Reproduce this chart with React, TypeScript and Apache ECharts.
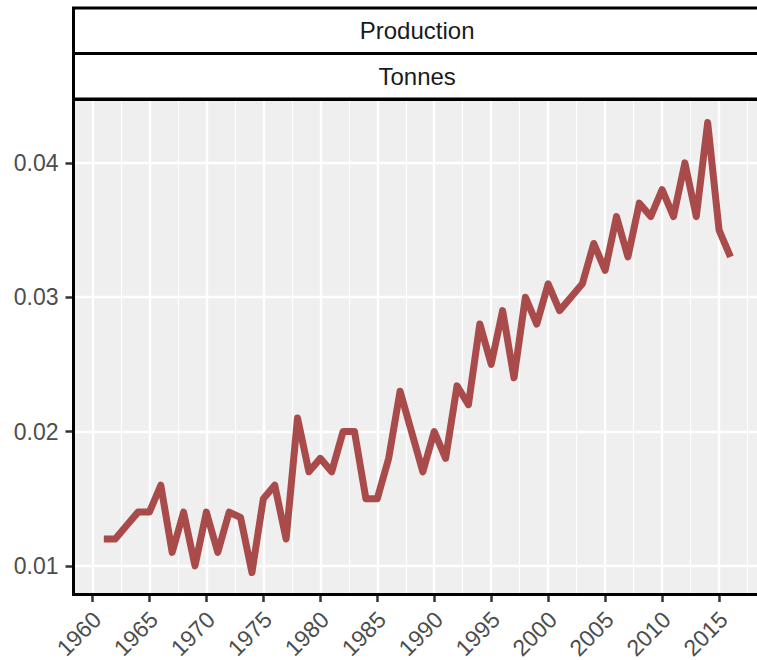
import React, { useEffect, useRef } from "react";
import * as echarts from "echarts";

const years: number[] = [
  1961, 1962, 1963, 1964, 1965, 1966, 1967, 1968, 1969, 1970,
  1971, 1972, 1973, 1974, 1975, 1976, 1977, 1978, 1979, 1980,
  1981, 1982, 1983, 1984, 1985, 1986, 1987, 1988, 1989, 1990,
  1991, 1992, 1993, 1994, 1995, 1996, 1997, 1998, 1999, 2000,
  2001, 2002, 2003, 2004, 2005, 2006, 2007, 2008, 2009, 2010,
  2011, 2012, 2013, 2014, 2015, 2016,
];

const production: number[] = [
  0.012, 0.012, 0.013, 0.014, 0.014, 0.016, 0.011, 0.014, 0.010, 0.014,
  0.011, 0.014, 0.0136, 0.0095, 0.015, 0.016, 0.012, 0.021, 0.017, 0.018,
  0.017, 0.020, 0.020, 0.015, 0.015, 0.018, 0.023, 0.020, 0.017, 0.020,
  0.018, 0.0234, 0.022, 0.028, 0.025, 0.029, 0.024, 0.030, 0.028, 0.031,
  0.029, 0.030, 0.031, 0.034, 0.032, 0.036, 0.033, 0.037, 0.036, 0.038,
  0.036, 0.040, 0.036, 0.043, 0.035, 0.033,
];

const xTicks: number[] = [1960, 1965, 1970, 1975, 1980, 1985, 1990, 1995, 2000, 2005, 2010, 2015];
const xMinor: number[] = [1962.5, 1967.5, 1972.5, 1977.5, 1982.5, 1987.5, 1992.5, 1997.5, 2002.5, 2007.5, 2012.5, 2017.5];
const yTicks: number[] = [0.01, 0.02, 0.03, 0.04];
const yMinor: number[] = [0.015, 0.025, 0.035];

const stripLabels: string[] = ["Production", "Tonnes"];

const FONT = "'Liberation Sans', Arial, Helvetica, sans-serif";

export default function App() {
  const ref = useRef<HTMLDivElement>(null);

  useEffect(() => {
    if (!ref.current) return;
    const chart = echarts.init(ref.current, null, { renderer: "svg" });

    const gridLeft = 72.5;
    const gridTop = 100;
    const gridWidth = 689.3;
    const gridHeight = 495;
    const stripX = 73.5;
    const stripW = 720;
    const stripH = 45.5;
    const stripCx = gridLeft + gridWidth / 2;

    const option: any = {
      animation: false,
      grid: {
        left: gridLeft,
        top: gridTop,
        width: gridWidth,
        height: gridHeight,
        show: true,
        backgroundColor: "#EFEFEF",
        borderWidth: 0,
        containLabel: false,
        outerBoundsMode: "none",
      },
      xAxis: {
        type: "value",
        min: 1958.25,
        max: 2018.75,
        axisLine: { show: false },
        splitLine: { show: false },
        axisTick: {
          show: true,
          customValues: xTicks,
          length: 7,
          lineStyle: { color: "#333333", width: 2.5 },
        },
        axisLabel: {
          show: true,
          customValues: xTicks,
          rotate: 45,
          margin: 9,
          padding: [0, 5, 0, 0],
          align: "right",
          verticalAlign: "top",
          fontFamily: FONT,
          fontSize: 23,
          color: "#4D4D4D",
          formatter: (v: number) => String(Math.round(v)),
        },
      },
      yAxis: {
        type: "value",
        min: 0.00783,
        max: 0.04468,
        axisLine: { show: false },
        splitLine: { show: false },
        axisTick: {
          show: true,
          customValues: yTicks,
          length: 7,
          lineStyle: { color: "#333333", width: 2.5 },
        },
        axisLabel: {
          show: true,
          customValues: yTicks,
          margin: 14,
          fontFamily: FONT,
          fontSize: 23,
          color: "#4D4D4D",
          formatter: (v: number) => v.toFixed(2),
        },
      },
      series: [
        {
          name: "minorGrid",
          type: "line",
          data: years.map((y, i) => [y, production[i]]),
          showSymbol: false,
          lineStyle: { opacity: 0, width: 0 },
          silent: true,
          z: 1,
          markLine: {
            silent: true,
            symbol: ["none", "none"],
            label: { show: false },
            lineStyle: { color: "#FFFFFF", width: 1.2, type: "solid" },
            emphasis: { disabled: true },
            data: [
              ...xMinor.map((v) => ({ xAxis: v })),
              ...yMinor.map((v) => ({ yAxis: v })),
            ],
          },
        },
        {
          name: "majorGrid",
          type: "line",
          data: years.map((y, i) => [y, production[i]]),
          showSymbol: false,
          lineStyle: { opacity: 0, width: 0 },
          silent: true,
          z: 2,
          markLine: {
            silent: true,
            symbol: ["none", "none"],
            label: { show: false },
            lineStyle: { color: "#FFFFFF", width: 2.4, type: "solid" },
            emphasis: { disabled: true },
            data: [
              ...xTicks.map((v) => ({ xAxis: v })),
              ...yTicks.map((v) => ({ yAxis: v })),
            ],
          },
        },
        {
          name: "Production",
          type: "line",
          data: years.map((y, i) => [y, production[i]]),
          showSymbol: false,
          symbol: "none",
          z: 5,
          lineStyle: { color: "#A94B4B", width: 7, cap: "butt", join: "round" },
        },
      ],
      graphic: [
        {
          type: "rect",
          z: 100,
          shape: { x: stripX, y: 8, width: stripW, height: stripH },
          style: { fill: "#FFFFFF", stroke: "#000000", lineWidth: 3 },
        },
        {
          type: "rect",
          z: 100,
          shape: { x: stripX, y: 8 + stripH, width: stripW, height: stripH },
          style: { fill: "#FFFFFF", stroke: "#000000", lineWidth: 3 },
        },
        {
          type: "text",
          z: 101,
          x: stripCx,
          y: 8 + stripH / 2,
          style: {
            text: stripLabels[0],
            fontFamily: FONT,
            fontSize: 24,
            fill: "#1A1A1A",
            align: "center",
            verticalAlign: "middle",
            textAlign: "center",
            textVerticalAlign: "middle",
          },
        },
        {
          type: "text",
          z: 101,
          x: stripCx,
          y: 8 + stripH * 1.5,
          style: {
            text: stripLabels[1],
            fontFamily: FONT,
            fontSize: 24,
            fill: "#1A1A1A",
            align: "center",
            verticalAlign: "middle",
            textAlign: "center",
            textVerticalAlign: "middle",
          },
        },
        {
          type: "rect",
          z: 100,
          shape: { x: 73.5, y: 99.5, width: stripW, height: 495 },
          style: { fill: "none", stroke: "#000000", lineWidth: 3 },
        },
      ],
    };

    chart.setOption(option);
    return () => {
      chart.dispose();
    };
  }, []);

  return (
    <div
      ref={ref}
      style={{ position: "fixed", left: 0, top: 0, width: 757, height: 660, background: "#FFFFFF" }}
    />
  );
}
